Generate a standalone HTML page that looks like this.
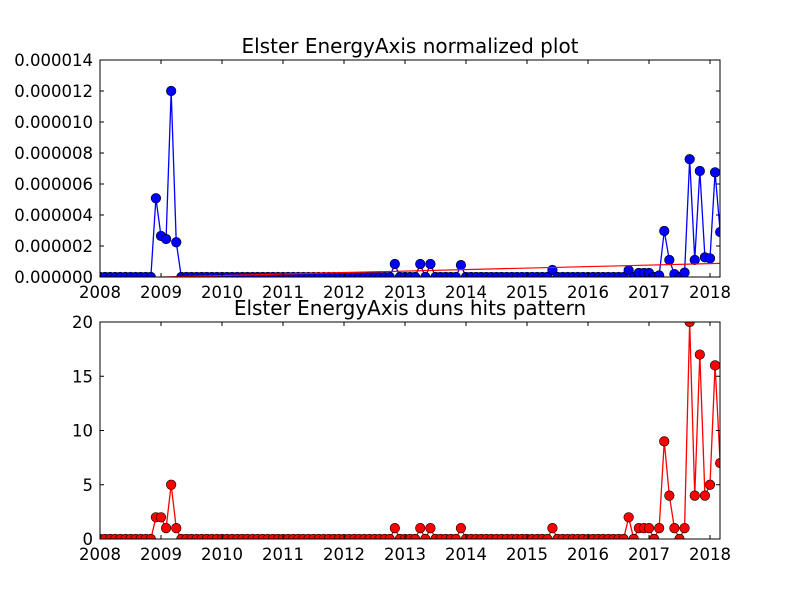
<!DOCTYPE html>
<html><head><meta charset="utf-8"><style>
html,body{margin:0;padding:0;background:#fff}
svg{display:block;font-family:"DejaVu Sans","Liberation Sans",sans-serif}
</style></head><body>
<svg id="chart" width="800" height="600" viewBox="0 0 800 600">
<rect width="800" height="600" fill="#fff"/>
</svg>
<script>
// months since Jan 2008 (index) with nonzero values; all other months are zero
const monthCount = 123;
const hitMonths = [11,12,13,14,15,58,63,65,71,89,104,106,107,108,110,111,112,113,115,116,117,118,119,120,121,122];
const hitCounts = [2,2,1,5,1,1,1,1,1,1,2,1,1,1,1,9,4,1,1,20,4,17,4,5,16,7];
const normValues = [5.08,2.65,2.45,12.0,2.24,0.84,0.84,0.84,0.77,0.45,0.43,0.26,0.26,0.26,0.1,2.97,1.1,0.19,0.28,7.6,1.1,6.84,1.27,1.2,6.75,2.9]; // x1e-6
const trendEnds = [-0.1, 0.88]; // x1e-6 at first and last month
const yTicksTop = ["0.000000","0.000002","0.000004","0.000006","0.000008","0.000010","0.000012","0.000014"];
const yTicksBottom = ["0","5","10","15","20"];
const xTickYears = ["2008","2009","2010","2011","2012","2013","2014","2015","2016","2017","2018"];

const NS="http://www.w3.org/2000/svg";
const svg=document.getElementById('chart');
function el(tag,attrs,parent){const e=document.createElementNS(NS,tag);for(const k in attrs)e.setAttribute(k,attrs[k]);(parent||svg).appendChild(e);return e;}
const X0=100,X1=720;
const pxPerYear=61.0;
function xScale(month){return X0+month*pxPerYear/12;}
function full(vals){const a=new Array(monthCount).fill(0);hitMonths.forEach((m,i)=>a[m]=vals[i]);return a;}

function panel(name,top,bottom,ymax,yTicks,series,color,title,trend){
  const g=el('g',{});
  
  
  const ys=v=>bottom-(v/ymax)*(bottom-top);
  const clip=el('clipPath',{id:name+'-clip'},g);
  el('rect',{x:X0,y:top,width:X1-X0,height:bottom-top},clip);
  const plot=el('g',{'clip-path':'url(#'+name+'-clip)'},g);
  let d='';
  series.forEach((v,i)=>{d+=(i?'L':'M')+xScale(i).toFixed(2)+','+ys(v).toFixed(2);});
  const line=el('path',{d:d,fill:'none',stroke:color,'stroke-width':1.3},plot);
  
  
  series.forEach((v,i)=>{
    const c=el('circle',{cx:xScale(i),cy:ys(v),r:4.8,fill:color,stroke:'#000','stroke-width':0.6},plot);
    
    
  });
  if(trend){
    const tl=el('line',{x1:xScale(0),y1:ys(trend[0]),x2:xScale(monthCount-1),y2:ys(trend[1]),stroke:'#f00','stroke-width':1.2},plot);
    
    
  }
  const frame=el('rect',{x:X0,y:top,width:X1-X0,height:bottom-top,fill:'none',stroke:'#000','stroke-width':1},g);
  
  
  yTicks.forEach((t,i)=>{
    const y=top+(bottom-top)*(1-i/(yTicks.length-1));
    el('line',{x1:X0,y1:y,x2:X0+4,y2:y,stroke:'#000'},g);
    el('line',{x1:X1,y1:y,x2:X1-4,y2:y,stroke:'#000'},g);
    const tx=el('text',{x:93,y:y+6,'text-anchor':'end','font-size':16.5},g);
    tx.textContent=t;
    
    
  });
  xTickYears.forEach((t,i)=>{
    const x=X0+i*pxPerYear;
    el('line',{x1:x,y1:bottom,x2:x,y2:bottom-4,stroke:'#000'},g);
    el('line',{x1:x,y1:top,x2:x,y2:top+4,stroke:'#000'},g);
    const tx=el('text',{x:x,y:bottom+21,'text-anchor':'middle','font-size':16.5},g);
    tx.textContent=t;
    
    
  });
  const tt=el('text',{x:410,y:top-7,'text-anchor':'middle','font-size':20},g);
  tt.textContent=title;
  
  
}
panel('normalized-panel',60,277,14,yTicksTop,full(normValues),'#0000ff','Elster EnergyAxis normalized plot',trendEnds);
panel('hits-panel',322,539,20,yTicksBottom,full(hitCounts),'#ff0000','Elster EnergyAxis duns hits pattern',null);
</script>
</body></html>
